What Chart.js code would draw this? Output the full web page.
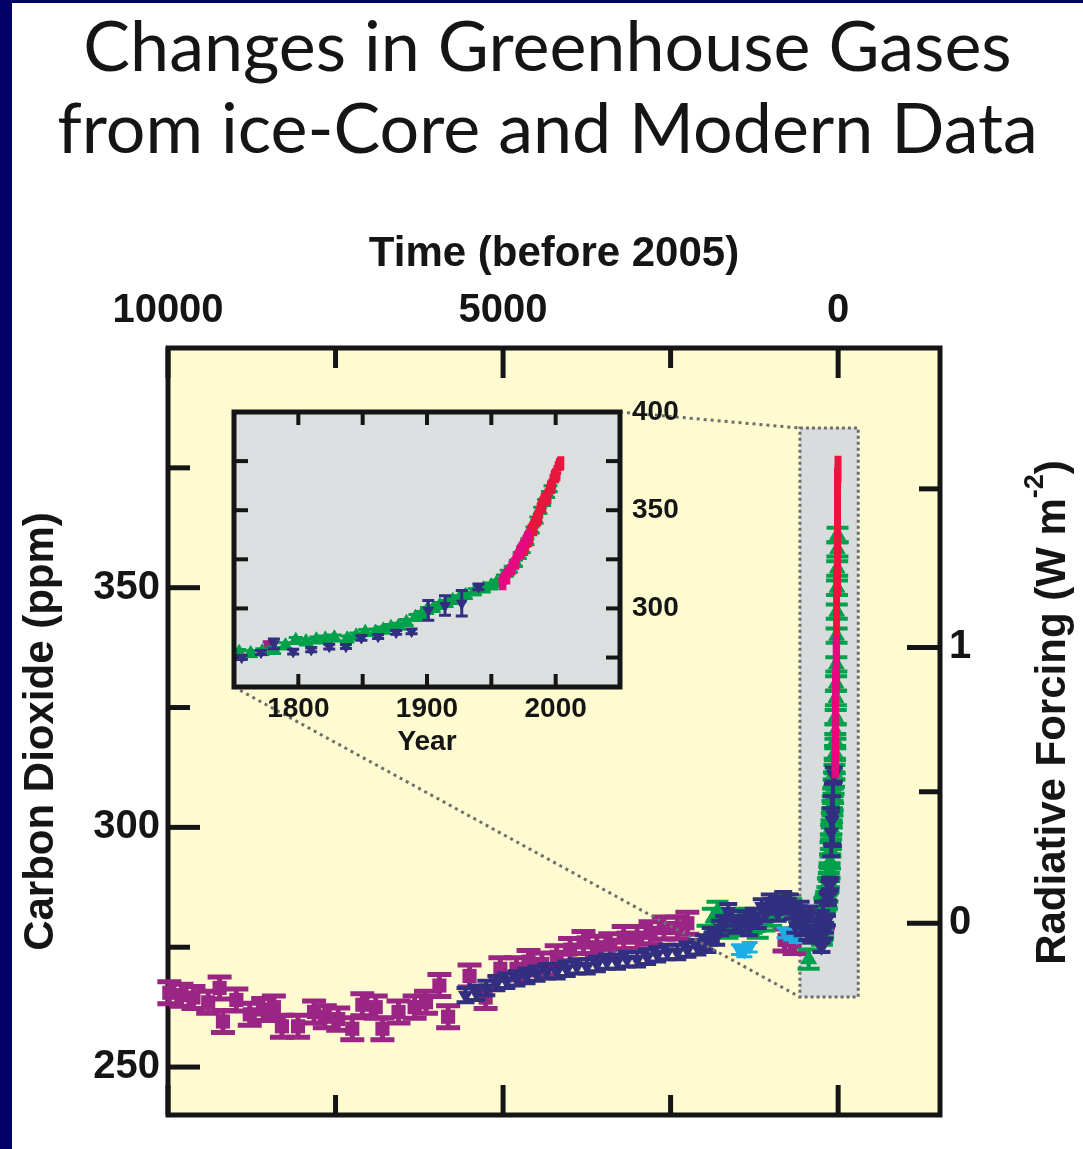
<!DOCTYPE html>
<html>
<head>
<meta charset="utf-8">
<title>Changes in Greenhouse Gases</title>
<script src="https://cdn.jsdelivr.net/npm/chart.js@4.4.1/dist/chart.umd.min.js"></script>
<style>
  html, body { margin: 0; padding: 0; background: #fff; }
  #wrap { position: relative; width: 1083px; height: 1149px; overflow: hidden; }
  #wrap canvas { position: absolute; left: 0; top: 0; }
  .edge { position: absolute; background: #000066; }
</style>
</head>
<body>
<div id="wrap">
  <canvas id="main" width="1083" height="1149"></canvas>
  <canvas id="inset" width="1083" height="1149"></canvas>
  <div class="edge" style="left:0;top:0;width:12px;height:1149px"></div>
  <div class="edge" style="left:0;top:0;width:1083px;height:3px"></div>
</div>
<script>
const REF_YEAR = 2005;

// ice-core records, years before 2005
const purpleAge = [9980, 9800, 9620, 9400, 9230, 9180, 8980, 8780, 8580, 8420, 8300, 8060, 7820, 7660, 7460,
  7250, 7100, 6900, 6800, 6560, 6320, 6150, 5950, 5820, 5500, 5260, 5040, 4800, 4620, 4420,
  4200, 4000, 3800, 3600, 3400, 3200, 3000, 2800, 2600, 2400, 2250, 800, 650];
const purpleCO2 = [265.5, 265, 264.5, 263.5, 266.5, 259.5, 264, 261, 262, 262.5, 258.5, 258.5, 261.5, 260.5, 260,
  258, 263, 262.5, 258, 261.5, 262.5, 263.5, 267, 260.5, 269, 264.5, 270.5, 270.5, 272, 271.5,
  273, 274.5, 276, 275, 275.5, 277, 277, 278, 279, 279, 280, 276.5, 276];
const purpleErr = 2.3;

const blueAge = [5560, 5400, 5250, 5100, 4950, 4800, 4650, 4500, 4350, 4200, 4050, 3900, 3750, 3600, 3450,
  3300, 3150, 3000, 2850, 2700, 2550, 2400, 2250, 2100, 2000, 1950, 1900, 1820, 1760, 1700,
  1640, 1580, 1520, 1450, 1400, 1330, 1260, 1200, 1140, 1080, 1020, 960, 900, 860, 820,
  760, 720, 680, 640, 600, 560, 530, 500, 460, 430, 400, 340, 290];
const blueCO2 = [265, 265.5, 266.5, 267.5, 268, 268.5, 269, 269.5, 270, 270, 270.5, 271, 271, 271.5, 272,
  272, 272.5, 272.5, 273, 273.5, 274, 274, 274.5, 275, 276, 275.5, 277.5, 277, 279, 280,
  282.5, 281, 279.5, 280, 281, 279, 281.5, 280.5, 283.5, 282, 284.5, 283.5, 282, 284, 285,
  283.5, 284.5, 282.5, 279.5, 281, 283, 279, 280.5, 278, 282, 277.5, 279, 280.5];
const blueErr = 1.5;

const greenAge = [1950, 1870, 1800, 1720, 1650, 1560, 1470, 1380, 1290, 1200, 1100, 1000, 900, 800, 700, 600, 500, 440, 380, 320];
const greenCO2 = [277.5, 281, 282.5, 280, 279, 279.5, 280.5, 281, 280, 279, 280.5, 281.5, 283, 284, 283, 281, 279.5, 272.5, 278, 279.5];
const greenErr = 2;

const cyanAge = [1480, 1400, 1320, 800, 700, 620];
const cyanCO2 = [274.5, 274, 275, 278, 277.5, 277];
const cyanErr = 1;

// since 1750, calendar years
const recentPurpleYear = [1777];
const recentPurpleCO2 = [281];
const recentPurpleErr = [2];

const recentBlueYear = [1756, 1771, 1781, 1796, 1810, 1824, 1837, 1849, 1862, 1876, 1888, 1901, 1914, 1927, 1940];
const recentBlueCO2 = [275, 277.6, 282, 278, 279, 280.6, 280.6, 285, 285.7, 287.8, 288.3, 299, 301.5, 302.6, 311];
const recentBlueErr = [1, 1, 2.5, 1.2, 1, 1.2, 1, 1.2, 1, 1, 1.2, 5, 5, 6.5, 1.5];

const recentGreenYear = [1754, 1763, 1772, 1781, 1790, 1798, 1806, 1814, 1821, 1828, 1838, 1845, 1852, 1860, 1866,
  1872, 1878, 1884, 1891, 1896, 1900, 1905, 1910, 1915, 1920, 1925, 1930, 1937, 1944, 1950,
  1954, 1959, 1962, 1965, 1969, 1972, 1975, 1978, 1982, 1985, 1988, 1991, 1994, 1996];
const recentGreenCO2 = [277.6, 277, 278, 278.6, 281, 283.7, 283, 284, 284.5, 285, 284.5, 286, 287.8, 288, 289,
  290.3, 291, 292.9, 295.4, 297, 299, 300, 301.5, 302.5, 304, 305, 306.6, 308.5, 310, 311.5,
  312.8, 315.5, 318, 320, 323, 327, 330, 334, 340, 345, 350, 354, 358, 361];
const recentGreenErr = 1.5;

// atmospheric measurements (seasonal highs and lows)
const magentaYear = [1958, 1958.5, 1959, 1959.5, 1960, 1960.5, 1961, 1961.5, 1962, 1962.5, 1963, 1963.5,
  1964, 1964.5, 1965, 1965.5, 1966, 1966.5, 1967, 1967.5, 1968, 1968.5, 1969, 1969.5, 1970, 1970.5,
  1971, 1971.5, 1972, 1972.5, 1973, 1973.5, 1974, 1974.5, 1975, 1975.5, 1976, 1976.5, 1977, 1977.5,
  1978, 1978.5, 1979];
const magentaCO2 = [316, 311, 317.5, 312, 318, 313.5, 319, 314, 320, 315.5, 321, 316,
  321.5, 317, 322.5, 318.5, 324, 319.5, 325, 320.5, 326, 321.5, 327.5, 323, 329, 324.5,
  330, 325.5, 331.5, 327, 333, 328.5, 334, 330, 335, 331, 336, 332, 337.5, 333.5,
  339, 335, 340];

const redYear = [1975, 1975.5, 1976, 1976.5, 1977, 1977.5, 1978, 1978.5, 1979, 1979.5, 1980, 1980.5,
  1981, 1981.5, 1982, 1982.5, 1983, 1983.5, 1984, 1984.5, 1985, 1985.5, 1986, 1986.5, 1987, 1987.5,
  1988, 1988.5, 1989, 1989.5, 1990, 1990.5, 1991, 1991.5, 1992, 1992.5, 1993, 1993.5, 1994, 1994.5,
  1995, 1995.5, 1996, 1996.5, 1997, 1997.5, 1998, 1998.5, 1999, 1999.5, 2000, 2000.5, 2001, 2001.5,
  2002, 2002.5, 2003, 2003.5, 2004];
const redCO2 = [333.5, 328.5, 334.5, 329.5, 336.5, 331, 338, 333, 339.5, 334.5, 341.5, 336.5,
  343, 337.5, 344, 338.5, 345.5, 340.5, 347, 342, 348.5, 343.5, 350, 345, 351.5, 347,
  354, 349, 355.5, 350.5, 357, 352, 358.5, 353.5, 359, 354, 359.5, 355, 361, 356.5,
  363, 358, 365, 360, 366, 361, 368.5, 364, 370.5, 365.5, 371.5, 366.5, 373, 368,
  375, 370, 376.5, 372, 377.5];

// axes
const timeTicks = [10000, 5000, 0];
const timeMinor = [7500, 2500];
const co2Ticks = [250, 300, 350];
const co2Minor = [275, 325, 375];
const forcingTicks = [0, 1];
const forcingMinor = [0.5, 1.5];
const yearTicks = [1800, 1900, 2000];
const yearMinor = [1850, 1950];
const insetCo2Ticks = [300, 350, 400];
const insetCo2Minor = [275, 325, 375];

// region of the main panel that the inset enlarges
const zoomBox = { ageFrom: 570, ageTo: -300, co2Low: 264.6, co2High: 383.3 };

const FONT = "'Liberation Sans', Arial, Helvetica, sans-serif";
const INK = '#151515';
const COL = {
  purple: '#9a2584', blue: '#322e80', green: '#00a14b', cyan: '#1eaee6',
  red: '#e8163c', magenta: '#e6087f'
};

const forcingToCo2 = f => 280 * Math.exp(f / 5.35);
const pts = (xs, ys) => xs.map((x, i) => ({ x, y: ys[i] }));
const ago = years => years.map(y => REF_YEAR - y);
const fill = (e, n) => Array.isArray(e) ? e : Array(n).fill(e);
const plain = v => String(v);

// vertical error bars, drawn just under each dataset's markers
const errorBars = {
  id: 'errorBars',
  beforeDatasetDraw(chart, args) {
    const ds = chart.data.datasets[args.index];
    if (!ds.err) return;
    const meta = args.meta;
    const y = chart.scales[meta.yAxisID];
    const ctx = chart.ctx;
    const hw = ds.capWidth / 2;
    ctx.save();
    ctx.strokeStyle = ds.pointBackgroundColor;
    ctx.lineWidth = ds.errWidth;
    ds.data.forEach((p, i) => {
      const px = meta.data[i].x;
      const top = y.getPixelForValue(p.y + ds.err[i]);
      const bot = y.getPixelForValue(p.y - ds.err[i]);
      ctx.beginPath();
      ctx.moveTo(px, top); ctx.lineTo(px, bot);
      ctx.moveTo(px - hw, top); ctx.lineTo(px + hw, top);
      ctx.moveTo(px - hw, bot); ctx.lineTo(px + hw, bot);
      ctx.stroke();
    });
    ctx.restore();
  }
};

function line(ctx, x0, y0, x1, y1) {
  ctx.beginPath(); ctx.moveTo(x0, y0); ctx.lineTo(x1, y1); ctx.stroke();
}

const mainPanel = {
  id: 'mainPanel',
  beforeDatasetsDraw(chart) {
    const { ctx, chartArea: a, scales } = chart;
    const x = scales.x, y = scales.y;
    ctx.save();
    ctx.fillStyle = '#fefbd0';
    ctx.fillRect(a.left, a.top, a.width, a.height);

    const bx0 = x.getPixelForValue(zoomBox.ageFrom), bx1 = x.getPixelForValue(zoomBox.ageTo);
    const by0 = y.getPixelForValue(zoomBox.co2High), by1 = y.getPixelForValue(zoomBox.co2Low);
    ctx.fillStyle = '#d9dcdd';
    ctx.fillRect(bx0, by0, bx1 - bx0, by1 - by0);
    ctx.setLineDash([3, 3]);
    ctx.lineWidth = 3;
    ctx.strokeStyle = '#6e6e6e';
    ctx.strokeRect(bx0, by0, bx1 - bx0, by1 - by0);
    ctx.setLineDash([]);

    ctx.strokeStyle = INK;
    ctx.lineWidth = 5;
    timeTicks.concat(timeMinor).forEach(v => {
      const len = timeTicks.includes(v) ? 30 : 20;
      const px = x.getPixelForValue(v);
      line(ctx, px, a.top, px, a.top + len);
      line(ctx, px, a.bottom, px, a.bottom - len);
    });
    co2Ticks.concat(co2Minor).forEach(v => {
      const len = co2Ticks.includes(v) ? 32 : 22;
      const py = y.getPixelForValue(v);
      line(ctx, a.left, py, a.left + len, py);
    });
    forcingTicks.concat(forcingMinor).forEach(f => {
      const len = forcingTicks.includes(f) ? 33 : 21;
      const py = scales.rf.getPixelForValue(forcingToCo2(f));
      line(ctx, a.right - len, py, a.right, py);
    });
    ctx.strokeRect(a.left, a.top, a.width, a.height);
    ctx.restore();
  },
  afterDraw(chart) {
    // right-hand axis title, read bottom to top, with a superscript
    const { ctx, chartArea: a } = chart;
    const big = `bold 42px ${FONT}`, small = `bold 27px ${FONT}`;
    const parts = [['Radiative Forcing (W m', big, 0], ['-2', small, -17], [')', big, 0]];
    ctx.save();
    ctx.translate(1053, (a.top + a.bottom) / 2 - 19);
    ctx.rotate(-Math.PI / 2);
    ctx.fillStyle = INK;
    ctx.textBaseline = 'middle';
    ctx.textAlign = 'left';
    let total = 0;
    parts.forEach(p => { ctx.font = p[1]; total += ctx.measureText(p[0]).width; });
    let cx = -total / 2;
    parts.forEach(p => {
      ctx.font = p[1];
      ctx.fillText(p[0], cx, p[2]);
      cx += ctx.measureText(p[0]).width;
    });
    ctx.restore();
  }
};

const tickFont = { family: FONT, size: 40, weight: 'bold' };
const titleFont = { family: FONT, size: 42, weight: 'bold' };

const mainChart = new Chart(document.getElementById('main'), {
  type: 'scatter',
  data: {
    datasets: [
      {
        label: 'South Pole', data: pts(ago(magentaYear), magentaCO2), showLine: true,
        borderColor: COL.magenta, borderWidth: 7, pointRadius: 0, clip: false
      },
      {
        label: 'Mauna Loa', data: pts(ago(redYear), redCO2), showLine: true,
        borderColor: COL.red, borderWidth: 7, pointRadius: 0, clip: false
      },
      {
        label: 'ice core B',
        data: pts(blueAge, blueCO2).concat(pts(ago(recentBlueYear), recentBlueCO2)),
        err: fill(blueErr, blueAge.length).concat(recentBlueErr),
        capWidth: 18, errWidth: 4,
        pointStyle: 'triangle', pointRotation: 180, pointRadius: 8, pointBorderWidth: 1,
        pointBackgroundColor: COL.blue, pointBorderColor: COL.blue, clip: false
      },
      {
        label: 'ice core C', data: pts(cyanAge, cyanCO2), err: fill(cyanErr, cyanAge.length),
        capWidth: 16, errWidth: 3,
        pointStyle: 'triangle', pointRotation: 180, pointRadius: 7, pointBorderWidth: 1,
        pointBackgroundColor: COL.cyan, pointBorderColor: COL.cyan, clip: false
      },
      {
        label: 'ice core D',
        data: pts(greenAge, greenCO2).concat(pts(ago(recentGreenYear), recentGreenCO2)),
        err: fill(greenErr, greenAge.length).concat(fill(recentGreenErr, recentGreenYear.length)),
        capWidth: 22, errWidth: 4,
        pointStyle: 'triangle', pointRadius: 9, pointBorderWidth: 1,
        pointBackgroundColor: COL.green, pointBorderColor: COL.green, clip: false
      },
      {
        label: 'ice core A',
        data: pts(purpleAge, purpleCO2).concat(pts(ago(recentPurpleYear), recentPurpleCO2)),
        err: fill(purpleErr, purpleAge.length).concat(recentPurpleErr),
        capWidth: 24, errWidth: 5,
        pointStyle: 'rect', pointRadius: 10, pointBorderWidth: 0,
        pointBackgroundColor: COL.purple, pointBorderColor: COL.purple, clip: false
      }
    ]
  },
  options: {
    responsive: false,
    animation: false,
    events: [],
    layout: { padding: { left: 12, top: 3, right: 0, bottom: 34 } },
    plugins: {
      legend: { display: false },
      tooltip: { enabled: false },
      title: {
        display: true,
        text: ['Changes in Greenhouse Gases', 'from ice-Core and Modern Data'],
        color: INK,
        font: { family: "Lato, 'Open Sans', sans-serif", size: 70, weight: 'normal', lineHeight: 82 / 70 },
        padding: { top: 4, bottom: 0 }
      }
    },
    scales: {
      x: {
        type: 'linear', position: 'top', reverse: true, min: -1520, max: 10000,
        afterBuildTicks: s => { s.ticks = timeTicks.map(v => ({ value: v })); },
        afterFit: s => { s.height = 177; },
        grid: { display: false, drawTicks: false },
        border: { display: false },
        ticks: { font: tickFont, color: INK, padding: 13, maxRotation: 0, autoSkip: false, callback: plain },
        title: { display: true, text: 'Time (before 2005)', font: titleFont, color: INK, padding: { top: 58, bottom: 0 } }
      },
      y: {
        type: 'linear', position: 'left', min: 240, max: 400,
        afterBuildTicks: s => { s.ticks = co2Ticks.map(v => ({ value: v })); },
        afterFit: s => { s.width = 156; },
        grid: { display: false, drawTicks: false },
        border: { display: false },
        ticks: { font: tickFont, color: INK, padding: 8, autoSkip: false, callback: plain },
        title: { display: true, text: 'Carbon Dioxide (ppm)', font: titleFont, color: INK, padding: { top: 4, bottom: 0 } }
      },
      rf: {
        type: 'linear', position: 'right', min: 240, max: 400,
        afterBuildTicks: s => { s.ticks = forcingTicks.map(f => ({ value: forcingToCo2(f) })); },
        afterFit: s => { s.width = 143; },
        grid: { display: false, drawTicks: false },
        border: { display: false },
        ticks: { font: tickFont, color: INK, padding: 9, autoSkip: false, callback: (v, i) => String(forcingTicks[i]) }
      }
    }
  },
  plugins: [mainPanel, errorBars]
});

const insetPanel = {
  id: 'insetPanel',
  beforeDraw(chart) {
    // dotted leaders from the inset to the shaded box of the main panel
    const { ctx, chartArea: a } = chart;
    const mx = mainChart.scales.x, my = mainChart.scales.y;
    const bx = mx.getPixelForValue(zoomBox.ageFrom);
    ctx.save();
    ctx.setLineDash([3, 4]);
    ctx.lineWidth = 3;
    ctx.strokeStyle = '#6e6e6e';
    line(ctx, a.right, a.top, bx, my.getPixelForValue(zoomBox.co2High));
    line(ctx, a.left, a.bottom, bx, my.getPixelForValue(zoomBox.co2Low));
    ctx.restore();
  },
  beforeDatasetsDraw(chart) {
    const { ctx, chartArea: a, scales } = chart;
    ctx.save();
    ctx.fillStyle = '#dcdfe0';
    ctx.fillRect(a.left, a.top, a.width, a.height);
    ctx.strokeStyle = INK;
    ctx.lineWidth = 4;
    yearTicks.concat(yearMinor).forEach(v => {
      const px = scales.x.getPixelForValue(v);
      line(ctx, px, a.top, px, a.top + 13);
      line(ctx, px, a.bottom, px, a.bottom - 13);
    });
    insetCo2Minor.concat([300, 350]).forEach(v => {
      const py = scales.y.getPixelForValue(v);
      line(ctx, a.left, py, a.left + 14, py);
      line(ctx, a.right - 14, py, a.right, py);
    });
    ctx.restore();
  },
  afterDatasetsDraw(chart) {
    const { ctx, chartArea: a } = chart;
    ctx.save();
    ctx.strokeStyle = INK;
    ctx.lineWidth = 5;
    ctx.strokeRect(a.left, a.top, a.width, a.height);
    ctx.restore();
  }
};

const insetFont = { family: FONT, size: 28, weight: 'bold' };

new Chart(document.getElementById('inset'), {
  type: 'scatter',
  data: {
    datasets: [
      {
        label: 'South Pole', data: pts(magentaYear, magentaCO2), showLine: true,
        borderColor: COL.magenta, borderWidth: 7, pointRadius: 0
      },
      {
        label: 'Mauna Loa', data: pts(redYear, redCO2), showLine: true,
        borderColor: COL.red, borderWidth: 7, pointRadius: 0
      },
      {
        label: 'ice core B', data: pts(recentBlueYear, recentBlueCO2), err: recentBlueErr,
        capWidth: 12, errWidth: 3,
        pointStyle: 'triangle', pointRotation: 180, pointRadius: 6, pointBorderWidth: 1,
        pointBackgroundColor: COL.blue, pointBorderColor: COL.blue
      },
      {
        label: 'ice core D', data: pts(recentGreenYear, recentGreenCO2),
        err: fill(recentGreenErr, recentGreenYear.length),
        capWidth: 14, errWidth: 3,
        pointStyle: 'triangle', pointRadius: 8, pointBorderWidth: 1,
        pointBackgroundColor: COL.green, pointBorderColor: COL.green
      },
      {
        label: 'ice core A', data: pts(recentPurpleYear, recentPurpleCO2), err: recentPurpleErr,
        capWidth: 12, errWidth: 3,
        pointStyle: 'rect', pointRadius: 7, pointBorderWidth: 0,
        pointBackgroundColor: COL.purple, pointBorderColor: COL.purple
      }
    ]
  },
  options: {
    responsive: false,
    animation: false,
    events: [],
    layout: { padding: { left: 234, top: 412, right: 403, bottom: 382 } },
    plugins: { legend: { display: false }, tooltip: { enabled: false }, title: { display: false } },
    scales: {
      x: {
        type: 'linear', position: 'bottom', min: 1750, max: 2050,
        afterBuildTicks: s => { s.ticks = yearTicks.map(v => ({ value: v })); },
        afterFit: s => { s.height = 80; },
        grid: { display: false, drawTicks: false },
        border: { display: false },
        ticks: { font: insetFont, color: INK, padding: 5, maxRotation: 0, autoSkip: false, callback: plain },
        title: { display: true, text: 'Year', font: insetFont, color: INK, padding: { top: 0, bottom: 8 } }
      },
      y: {
        type: 'linear', position: 'right', min: 260, max: 400,
        afterBuildTicks: s => { s.ticks = insetCo2Ticks.map(v => ({ value: v })); },
        afterFit: s => { s.width = 60; },
        grid: { display: false, drawTicks: false },
        border: { display: false },
        ticks: { font: insetFont, color: INK, padding: 12, autoSkip: false, callback: plain }
      }
    }
  },
  plugins: [insetPanel, errorBars]
});
</script>
</body>
</html>
